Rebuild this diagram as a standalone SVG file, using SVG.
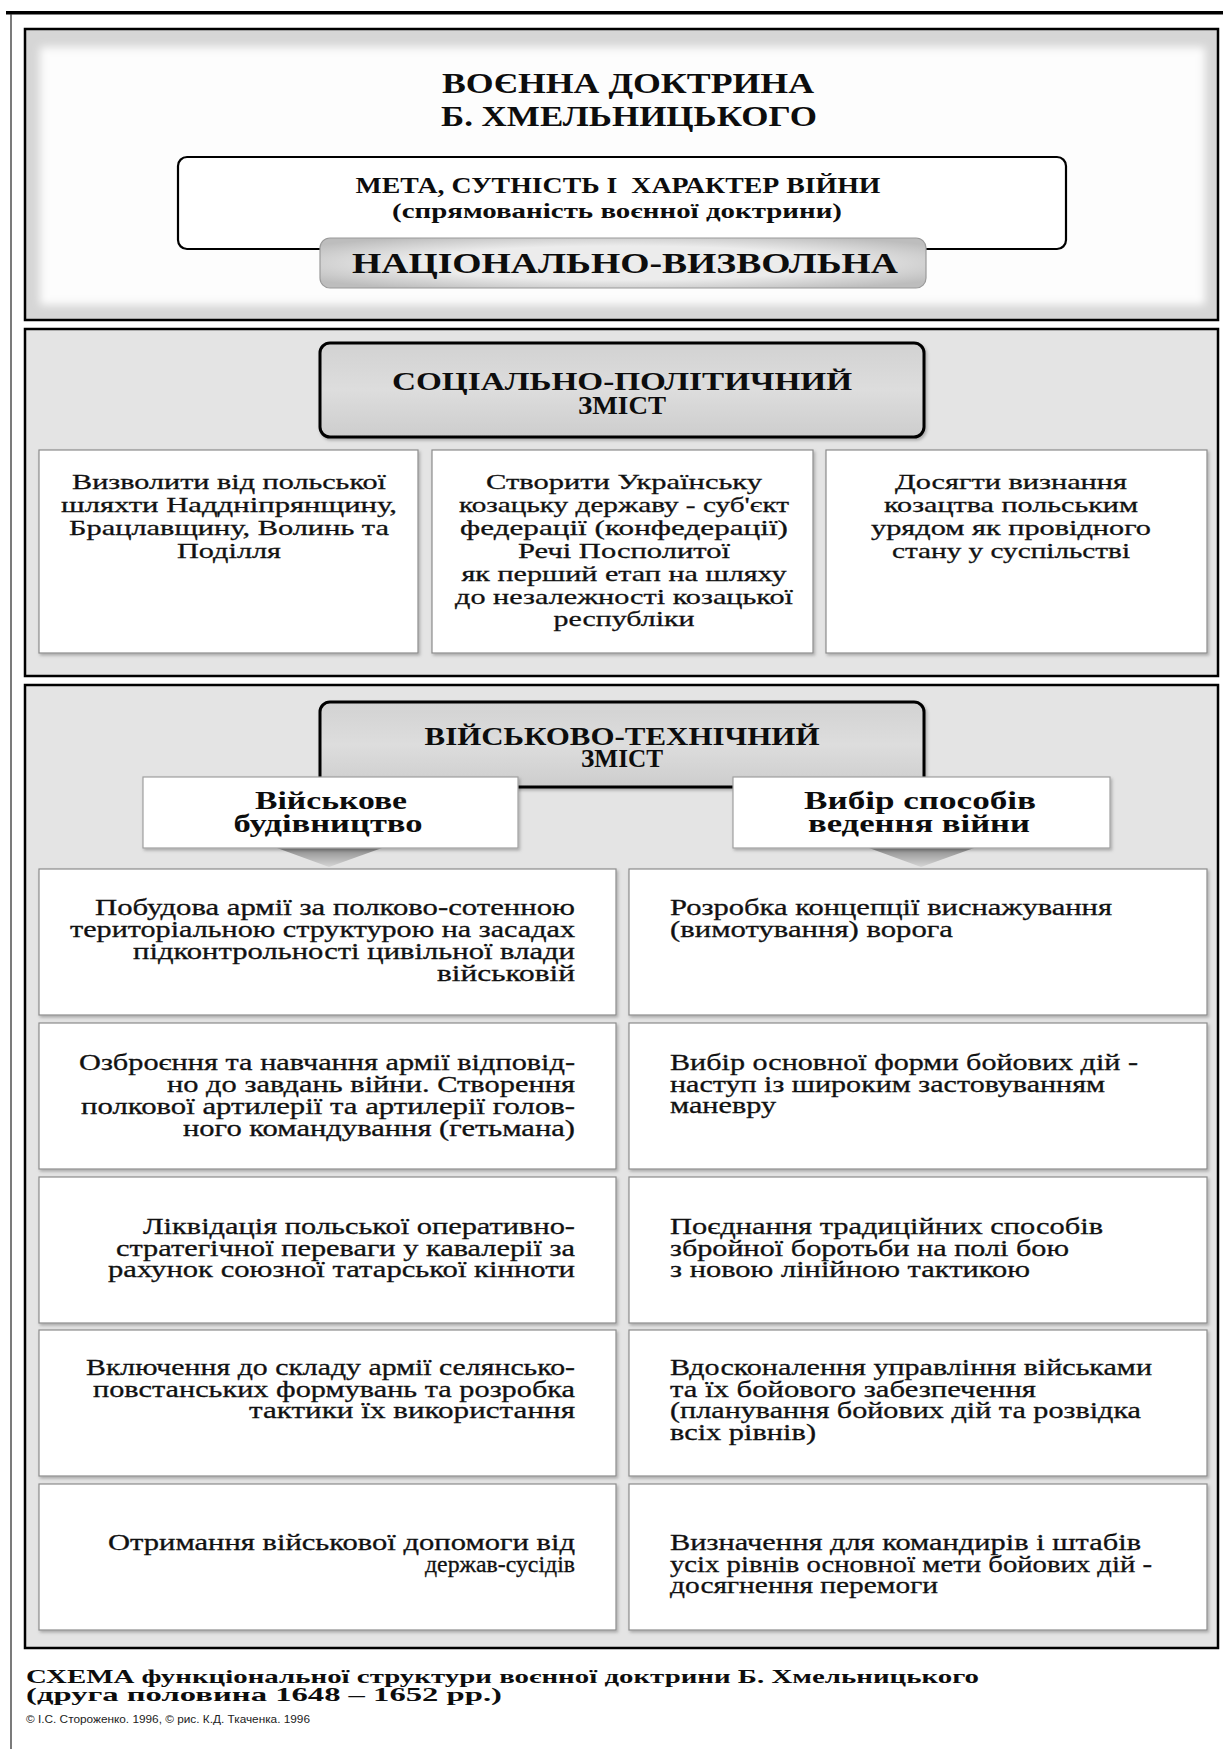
<svg xmlns="http://www.w3.org/2000/svg" width="1223" height="1749" viewBox="0 0 1223 1749">
<style>
.hb { font-family: "Liberation Serif", "DejaVu Serif", serif; font-weight: bold; fill: #0d0d0d; }
.tx { font-family: "Liberation Serif", "DejaVu Serif", serif; font-size: 23px; fill: #111; stroke: #111; stroke-width: 0.3; }
.t2 { font-family: "Liberation Serif", "DejaVu Serif", serif; font-size: 22px; fill: #111; stroke: #111; stroke-width: 0.3; }
.panel { stroke: #000; stroke-width: 2.5; }
.box { fill: #ffffff; stroke: #8c8c8c; stroke-width: 1.2; }
.hdr { fill: url(#hdrGrad); stroke: #000; stroke-width: 3; }
.sub { fill: #ffffff; stroke: #a0a0a0; stroke-width: 1.2; }
</style>
<defs>
  <linearGradient id="hdrGrad" x1="0" y1="0" x2="0" y2="1">
    <stop offset="0" stop-color="#d2d2d2"/>
    <stop offset="0.5" stop-color="#dddddd"/>
    <stop offset="1" stop-color="#cdcdcd"/>
  </linearGradient>
  <radialGradient id="pillGrad" cx="0.5" cy="0.5" r="0.62">
    <stop offset="0.55" stop-color="#ececec"/>
    <stop offset="1" stop-color="#bdbdbd"/>
  </radialGradient>
  <linearGradient id="triGrad" x1="0" y1="0" x2="0" y2="1">
    <stop offset="0" stop-color="#8a8a8a"/>
    <stop offset="1" stop-color="#d6d6d6"/>
  </linearGradient>
  <filter id="soft" x="-5%" y="-10%" width="110%" height="120%">
    <feGaussianBlur stdDeviation="4"/>
  </filter>
  <filter id="shadow" x="-5%" y="-5%" width="112%" height="115%">
    <feDropShadow dx="1.5" dy="2" stdDeviation="1.5" flood-color="#000" flood-opacity="0.25"/>
  </filter>
</defs>

<rect width="1223" height="1749" fill="#ffffff"/>

<!-- outer frame -->
<g id="frame">
  <rect x="6" y="11" width="1217" height="3.5" fill="#000"/>
  <line x1="11" y1="14" x2="11" y2="1749" stroke="#333" stroke-width="1.3"/>
</g>

<!-- section 1 -->
<g id="section1">
  <rect class="panel" x="25" y="29" width="1193" height="291" fill="#d6d6d6"/>
  <rect x="40" y="47" width="1165" height="258" fill="#fdfdfd" filter="url(#soft)"/>
  <g id="title">
    <text class="hb" x="628" y="93" font-size="30" text-anchor="middle" textLength="372" lengthAdjust="spacingAndGlyphs">ВОЄННА ДОКТРИНА</text>
    <text class="hb" x="629" y="126" font-size="30" text-anchor="middle" textLength="376" lengthAdjust="spacingAndGlyphs">Б. ХМЕЛЬНИЦЬКОГО</text>
  </g>
  <g id="meta">
    <rect x="178" y="157" width="888" height="92" rx="9" fill="#ffffff" stroke="#000" stroke-width="2.2"/>
    <text class="hb" x="618" y="193" font-size="23.5" text-anchor="middle" textLength="525" lengthAdjust="spacingAndGlyphs" style="white-space:pre">МЕТА, СУТНІСТЬ І  ХАРАКТЕР ВІЙНИ</text>
    <text class="hb" x="617" y="218" font-size="20" text-anchor="middle" textLength="450" lengthAdjust="spacingAndGlyphs">(спрямованість воєнної доктрини)</text>
  </g>
  <g id="national">
    <rect x="320" y="238" width="606" height="50" rx="10" fill="url(#pillGrad)" stroke="#9a9a9a" stroke-width="1.2"/>
    <text class="hb" x="625" y="273" font-size="28.5" text-anchor="middle" textLength="546" lengthAdjust="spacingAndGlyphs">НАЦІОНАЛЬНО-ВИЗВОЛЬНА</text>
  </g>
</g>

<!-- section 2 -->
<g id="section2">
  <rect class="panel" x="25" y="329" width="1193" height="347" fill="#e4e4e4"/>
  <g id="social-header">
    <rect class="hdr" x="320" y="343" width="604" height="94" rx="10" filter="url(#shadow)"/>
    <text class="hb" x="622" y="390" font-size="25" text-anchor="middle" textLength="460" lengthAdjust="spacingAndGlyphs">СОЦІАЛЬНО-ПОЛІТИЧНИЙ</text>
    <text class="hb" x="622" y="414" font-size="25" text-anchor="middle" textLength="88" lengthAdjust="spacingAndGlyphs">ЗМІСТ</text>
  </g>
  <g id="goal1">
    <rect class="box" x="39" y="450" width="379" height="203" filter="url(#shadow)"/>
    <text class="t2" x="229" y="489" text-anchor="middle" textLength="314" lengthAdjust="spacingAndGlyphs">Визволити від польської</text>
    <text class="t2" x="229" y="512" text-anchor="middle" textLength="336" lengthAdjust="spacingAndGlyphs">шляхти Наддніпрянщину,</text>
    <text class="t2" x="229" y="535" text-anchor="middle" textLength="320" lengthAdjust="spacingAndGlyphs">Брацлавщину, Волинь та</text>
    <text class="t2" x="229" y="558" text-anchor="middle" textLength="104" lengthAdjust="spacingAndGlyphs">Поділля</text>
  </g>
  <g id="goal2">
    <rect class="box" x="432" y="450" width="381" height="203" filter="url(#shadow)"/>
    <text class="t2" x="624" y="489" text-anchor="middle" textLength="276" lengthAdjust="spacingAndGlyphs">Створити Українську</text>
    <text class="t2" x="624" y="512" text-anchor="middle" textLength="330" lengthAdjust="spacingAndGlyphs">козацьку державу - суб'єкт</text>
    <text class="t2" x="624" y="535" text-anchor="middle" textLength="328" lengthAdjust="spacingAndGlyphs">федерації (конфедерації)</text>
    <text class="t2" x="624" y="558" text-anchor="middle" textLength="212" lengthAdjust="spacingAndGlyphs">Речі Посполитої</text>
    <text class="t2" x="624" y="581" text-anchor="middle" textLength="325" lengthAdjust="spacingAndGlyphs">як перший етап на шляху</text>
    <text class="t2" x="624" y="604" text-anchor="middle" textLength="338" lengthAdjust="spacingAndGlyphs">до незалежності козацької</text>
    <text class="t2" x="624" y="626" text-anchor="middle" textLength="141" lengthAdjust="spacingAndGlyphs">республіки</text>
  </g>
  <g id="goal3">
    <rect class="box" x="826" y="450" width="381" height="203" filter="url(#shadow)"/>
    <text class="t2" x="1011" y="489" text-anchor="middle" textLength="232" lengthAdjust="spacingAndGlyphs">Досягти визнання</text>
    <text class="t2" x="1011" y="512" text-anchor="middle" textLength="254" lengthAdjust="spacingAndGlyphs">козацтва польським</text>
    <text class="t2" x="1011" y="535" text-anchor="middle" textLength="280" lengthAdjust="spacingAndGlyphs">урядом як провідного</text>
    <text class="t2" x="1011" y="558" text-anchor="middle" textLength="238" lengthAdjust="spacingAndGlyphs">стану у суспільстві</text>
  </g>
</g>

<!-- section 3 -->
<g id="section3">
  <rect class="panel" x="25" y="685" width="1193" height="963" fill="#e4e4e4"/>
  <g id="military-header">
    <rect class="hdr" x="320" y="702" width="604" height="85" rx="10" filter="url(#shadow)"/>
    <text class="hb" x="622" y="745" font-size="24.5" text-anchor="middle" textLength="395" lengthAdjust="spacingAndGlyphs">ВІЙСЬКОВО-ТЕХНІЧНИЙ</text>
    <text class="hb" x="622" y="767" font-size="24.5" text-anchor="middle" textLength="82" lengthAdjust="spacingAndGlyphs">ЗМІСТ</text>
  </g>
  <g id="building">
    <polygon points="277,848 382,848 329,867" fill="url(#triGrad)"/>
    <rect class="sub" x="143" y="777" width="375" height="71" filter="url(#shadow)"/>
    <text class="hb" x="331" y="809" font-size="25" text-anchor="middle" textLength="152" lengthAdjust="spacingAndGlyphs">Військове</text>
    <text class="hb" x="328" y="832" font-size="25" text-anchor="middle" textLength="189" lengthAdjust="spacingAndGlyphs">будівництво</text>
  </g>
  <g id="methods">
    <polygon points="869,848 974,848 921,867" fill="url(#triGrad)"/>
    <rect class="sub" x="733" y="777" width="377" height="71" filter="url(#shadow)"/>
    <text class="hb" x="920" y="809" font-size="25" text-anchor="middle" textLength="232" lengthAdjust="spacingAndGlyphs">Вибір способів</text>
    <text class="hb" x="919" y="832" font-size="25" text-anchor="middle" textLength="222" lengthAdjust="spacingAndGlyphs">ведення війни</text>
  </g>

  <g id="left1">
    <rect class="box" x="39" y="869" width="577" height="146" filter="url(#shadow)"/>
    <text class="tx" x="575" y="915" text-anchor="end" textLength="480" lengthAdjust="spacingAndGlyphs">Побудова армії за полково-сотенною</text>
    <text class="tx" x="575" y="937" text-anchor="end" textLength="505" lengthAdjust="spacingAndGlyphs">територіальною структурою на засадах</text>
    <text class="tx" x="575" y="959" text-anchor="end" textLength="442" lengthAdjust="spacingAndGlyphs">підконтрольності цивільної влади</text>
    <text class="tx" x="575" y="981" text-anchor="end" textLength="138" lengthAdjust="spacingAndGlyphs">військовій</text>
  </g>
  <g id="left2">
    <rect class="box" x="39" y="1023" width="577" height="146" filter="url(#shadow)"/>
    <text class="tx" x="575" y="1070" text-anchor="end" textLength="496" lengthAdjust="spacingAndGlyphs">Озброєння та навчання армії відповід-</text>
    <text class="tx" x="575" y="1092" text-anchor="end" textLength="408" lengthAdjust="spacingAndGlyphs">но до завдань війни. Створення</text>
    <text class="tx" x="575" y="1114" text-anchor="end" textLength="494" lengthAdjust="spacingAndGlyphs">полкової артилерії та артилерії голов-</text>
    <text class="tx" x="575" y="1136" text-anchor="end" textLength="392" lengthAdjust="spacingAndGlyphs">ного командування (гетьмана)</text>
  </g>
  <g id="left3">
    <rect class="box" x="39" y="1177" width="577" height="146" filter="url(#shadow)"/>
    <text class="tx" x="575" y="1234" text-anchor="end" textLength="432" lengthAdjust="spacingAndGlyphs">Ліквідація польської оперативно-</text>
    <text class="tx" x="575" y="1256" text-anchor="end" textLength="459" lengthAdjust="spacingAndGlyphs">стратегічної переваги у кавалерії за</text>
    <text class="tx" x="575" y="1277" text-anchor="end" textLength="467" lengthAdjust="spacingAndGlyphs">рахунок союзної татарської кінноти</text>
  </g>
  <g id="left4">
    <rect class="box" x="39" y="1330" width="577" height="146" filter="url(#shadow)"/>
    <text class="tx" x="575" y="1375" text-anchor="end" textLength="489" lengthAdjust="spacingAndGlyphs">Включення до складу армії селянсько-</text>
    <text class="tx" x="575" y="1397" text-anchor="end" textLength="482" lengthAdjust="spacingAndGlyphs">повстанських формувань та розробка</text>
    <text class="tx" x="575" y="1418" text-anchor="end" textLength="326" lengthAdjust="spacingAndGlyphs">тактики їх використання</text>
  </g>
  <g id="left5">
    <rect class="box" x="39" y="1484" width="577" height="146" filter="url(#shadow)"/>
    <text class="tx" x="575" y="1550" text-anchor="end" textLength="467" lengthAdjust="spacingAndGlyphs">Отримання військової допомоги від</text>
    <text class="tx" x="575" y="1572" text-anchor="end" textLength="150" lengthAdjust="spacingAndGlyphs">держав-сусідів</text>
  </g>

  <g id="right1">
    <rect class="box" x="629" y="869" width="578" height="146" filter="url(#shadow)"/>
    <text class="tx" x="670" y="915" textLength="442" lengthAdjust="spacingAndGlyphs">Розробка концепції виснажування</text>
    <text class="tx" x="670" y="937" textLength="283" lengthAdjust="spacingAndGlyphs">(вимотування) ворога</text>
  </g>
  <g id="right2">
    <rect class="box" x="629" y="1023" width="578" height="146" filter="url(#shadow)"/>
    <text class="tx" x="670" y="1070" textLength="468" lengthAdjust="spacingAndGlyphs">Вибір основної форми бойових дій -</text>
    <text class="tx" x="670" y="1092" textLength="435" lengthAdjust="spacingAndGlyphs">наступ із широким застовуванням</text>
    <text class="tx" x="670" y="1113" textLength="106" lengthAdjust="spacingAndGlyphs">маневру</text>
  </g>
  <g id="right3">
    <rect class="box" x="629" y="1177" width="578" height="146" filter="url(#shadow)"/>
    <text class="tx" x="670" y="1234" textLength="433" lengthAdjust="spacingAndGlyphs">Поєднання традиційних способів</text>
    <text class="tx" x="670" y="1256" textLength="399" lengthAdjust="spacingAndGlyphs">збройної боротьби на полі бою</text>
    <text class="tx" x="670" y="1277" textLength="360" lengthAdjust="spacingAndGlyphs">з новою лінійною тактикою</text>
  </g>
  <g id="right4">
    <rect class="box" x="629" y="1330" width="578" height="146" filter="url(#shadow)"/>
    <text class="tx" x="670" y="1375" textLength="482" lengthAdjust="spacingAndGlyphs">Вдосконалення управління військами</text>
    <text class="tx" x="670" y="1397" textLength="366" lengthAdjust="spacingAndGlyphs">та їх бойового забезпечення</text>
    <text class="tx" x="670" y="1418" textLength="471" lengthAdjust="spacingAndGlyphs">(планування бойових дій та розвідка</text>
    <text class="tx" x="670" y="1440" textLength="146" lengthAdjust="spacingAndGlyphs">всіх рівнів)</text>
  </g>
  <g id="right5">
    <rect class="box" x="629" y="1484" width="578" height="146" filter="url(#shadow)"/>
    <text class="tx" x="670" y="1550" textLength="471" lengthAdjust="spacingAndGlyphs">Визначення для командирів і штабів</text>
    <text class="tx" x="670" y="1572" textLength="482" lengthAdjust="spacingAndGlyphs">усіх рівнів основної мети бойових дій -</text>
    <text class="tx" x="670" y="1593" textLength="268" lengthAdjust="spacingAndGlyphs">досягнення перемоги</text>
  </g>
</g>

<!-- caption -->
<g id="caption">
  <text class="hb" x="26" y="1683" font-size="19" textLength="953" lengthAdjust="spacingAndGlyphs">СХЕМА функціональної структури воєнної доктрини Б. Хмельницького</text>
  <text class="hb" x="26" y="1701" font-size="19" textLength="476" lengthAdjust="spacingAndGlyphs">(друга половина 1648 – 1652 рр.)</text>
  <text x="26" y="1723" font-family="Liberation Sans, Arial, sans-serif" font-size="10" fill="#222" textLength="284" lengthAdjust="spacingAndGlyphs">© І.С. Стороженко. 1996, © рис. К.Д. Ткаченка. 1996</text>
</g>
</svg>
